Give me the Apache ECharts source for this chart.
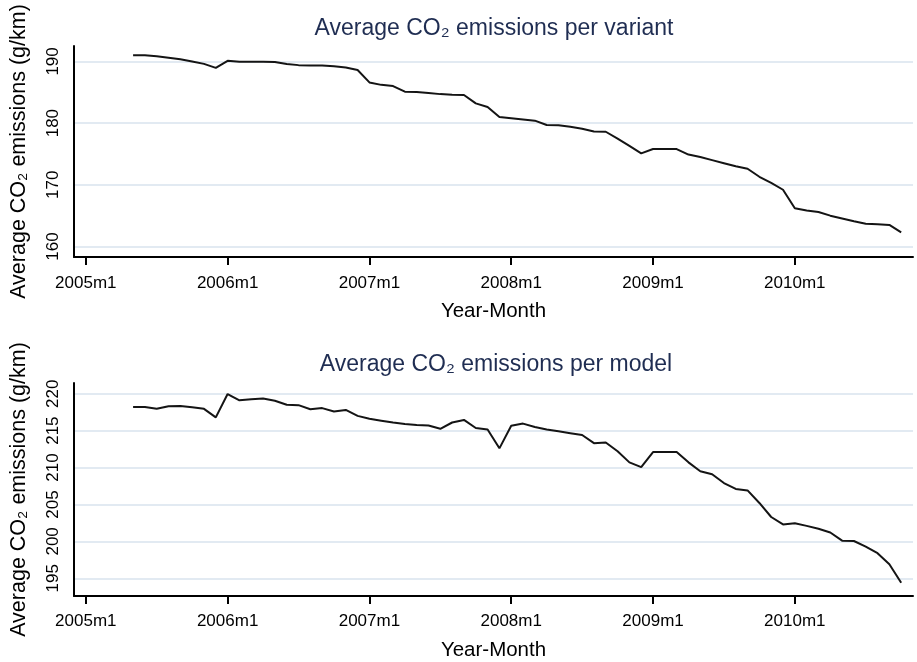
<!DOCTYPE html>
<html>
<head>
<meta charset="utf-8">
<script src="https://cdn.jsdelivr.net/npm/echarts@6/dist/echarts.min.js"></script>
<style>
  html, body { margin: 0; padding: 0; background: #ffffff; }
  #chart { width: 917px; height: 662px; }
</style>
</head>
<body>
<div id="chart"></div>
<script>
// Monthly periods covered by both series
const periods = [
  "2005m5","2005m6","2005m7","2005m8","2005m9","2005m10","2005m11","2005m12",
  "2006m1","2006m2","2006m3","2006m4","2006m5","2006m6","2006m7","2006m8","2006m9","2006m10","2006m11","2006m12",
  "2007m1","2007m2","2007m3","2007m4","2007m5","2007m6","2007m7","2007m8","2007m9","2007m10","2007m11","2007m12",
  "2008m1","2008m2","2008m3","2008m4","2008m5","2008m6","2008m7","2008m8","2008m9","2008m10","2008m11","2008m12",
  "2009m1","2009m2","2009m3","2009m4","2009m5","2009m6","2009m7","2009m8","2009m9","2009m10","2009m11","2009m12",
  "2010m1","2010m2","2010m3","2010m4","2010m5","2010m6","2010m7","2010m8","2010m9","2010m10"
];

// Average CO2 emissions per variant (g/km)
const variantCO2 = [
  191.0, 191.0, 190.85, 190.6, 190.35, 190.0, 189.6, 188.95,
  190.1, 189.95, 189.95, 189.95, 189.9, 189.6, 189.4, 189.35, 189.35, 189.2, 189.0, 188.6,
  186.6, 186.2, 186.0, 185.1, 185.05, 184.9, 184.7, 184.6, 184.55, 183.2, 182.6, 181.0,
  180.8, 180.6, 180.4, 179.7, 179.65, 179.4, 179.1, 178.65, 178.6, 177.5, 176.3, 175.1,
  175.8, 175.8, 175.8, 174.9, 174.5, 174.0, 173.5, 173.0, 172.6, 171.3, 170.3, 169.2,
  166.2, 165.85, 165.6, 165.0, 164.55, 164.1, 163.7, 163.6, 163.5, 162.3
];

// Average CO2 emissions per model (g/km)
const modelCO2 = [
  218.2, 218.2, 217.97, 218.3, 218.35, 218.15, 217.95, 216.8,
  219.95, 219.1, 219.25, 219.35, 219.05, 218.5, 218.45, 217.9, 218.05, 217.6, 217.8, 217.0,
  216.6, 216.35, 216.1, 215.9, 215.75, 215.7, 215.25, 216.1, 216.45, 215.35, 215.15, 212.6,
  215.65, 215.95, 215.5, 215.15, 214.9, 214.65, 214.4, 213.3, 213.4, 212.2, 210.7, 210.05,
  212.1, 212.1, 212.1, 210.7, 209.5, 209.1, 207.9, 207.1, 206.9, 205.2, 203.3, 202.3,
  202.45, 202.1, 201.7, 201.2, 200.1, 200.05, 199.3, 198.4, 196.9, 194.4
];

// Axis tick labels
const xTickPeriods = ["2005m1", "2006m1", "2007m1", "2008m1", "2009m1", "2010m1"];
const variantTicks = [160, 170, 180, 190];
const modelTicks = [195, 200, 205, 210, 215, 220];

const FONT = '"Liberation Sans", Arial, sans-serif';

// months elapsed since 2005m1
function monthIndex(p) {
  const parts = p.split('m');
  return (Number(parts[0]) - 2005) * 12 + (Number(parts[1]) - 1);
}
const xTickValues = xTickPeriods.map(monthIndex);

function xAxisFor(gridIndex, labelMargin) {
  return {
    type: 'value',
    gridIndex: gridIndex,
    min: -1,
    max: 70,
    name: 'Year-Month',
    nameLocation: 'middle',
    nameGap: 44,
    nameTextStyle: { fontFamily: FONT, fontSize: 20.5, color: '#000' },
    axisLine: { show: true, onZero: false, lineStyle: { color: '#000', width: 2 } },
    axisTick: { show: true, customValues: xTickValues, length: 8, lineStyle: { color: '#000', width: 2 } },
    axisLabel: {
      customValues: xTickValues,
      fontFamily: FONT, fontSize: 17, color: '#000', margin: labelMargin,
      formatter: function (v) { return xTickPeriods[xTickValues.indexOf(v)] || ''; }
    },
    splitLine: { show: false }
  };
}

function yAxisFor(gridIndex, min, max, ticks) {
  return {
    type: 'value',
    gridIndex: gridIndex,
    min: min,
    max: max,
    name: 'Average CO\u2082 emissions (g/km)',
    nameLocation: 'middle',
    nameGap: 44,
    nameTextStyle: { fontFamily: FONT, fontSize: 21.5, color: '#000' },
    axisLine: { show: true, onZero: false, lineStyle: { color: '#000', width: 2 } },
    axisTick: { show: false, customValues: ticks },
    axisLabel: { customValues: ticks, rotate: 90, fontFamily: FONT, fontSize: 17, color: '#000', margin: 12 },
    splitLine: { show: true, lineStyle: { color: '#d8e3ee', width: 1.5 } }
  };
}

function seriesFor(idx, values) {
  return {
    type: 'line',
    xAxisIndex: idx,
    yAxisIndex: idx,
    data: periods.map(function (p, i) { return [monthIndex(p), values[i]]; }),
    showSymbol: false,
    symbol: 'none',
    lineStyle: { color: '#141414', width: 2 },
    silent: true
  };
}

const chart = echarts.init(document.getElementById('chart'), null, { renderer: 'canvas' });
chart.setOption({
  animation: false,
  backgroundColor: '#ffffff',
  title: [
    {
      text: 'Average CO\u2082 emissions per variant',
      left: 494, top: 17, textAlign: 'center', padding: 0,
      textStyle: { fontFamily: FONT, fontSize: 23, fontWeight: 'normal', color: '#1f2d52' }
    },
    {
      text: 'Average CO\u2082 emissions per model',
      left: 496, top: 353, textAlign: 'center', padding: 0,
      textStyle: { fontFamily: FONT, fontSize: 23, fontWeight: 'normal', color: '#1f2d52' }
    }
  ],
  grid: [
    { left: 73, right: 4, top: 46, height: 211 },
    { left: 73, right: 4, top: 383, height: 213 }
  ],
  xAxis: [xAxisFor(0, 18), xAxisFor(1, 17)],
  yAxis: [
    yAxisFor(0, 158.3, 192.5, variantTicks),
    yAxisFor(1, 192.6, 221.45, modelTicks)
  ],
  series: [seriesFor(0, variantCO2), seriesFor(1, modelCO2)]
});
</script>
</body>
</html>
